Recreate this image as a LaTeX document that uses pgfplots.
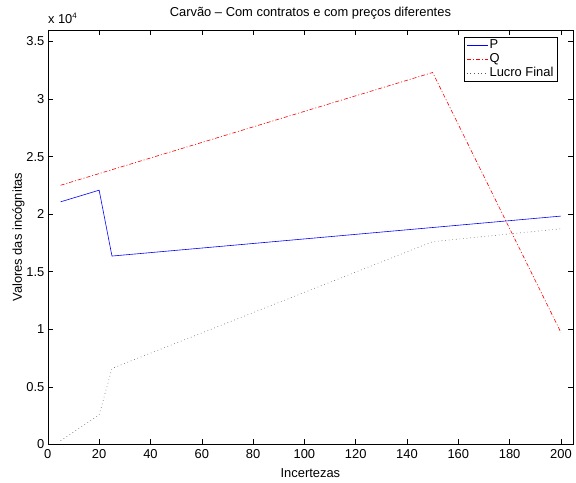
\documentclass[border=0pt]{standalone}
\usepackage{fontspec}
\setmainfont{Liberation Sans}
\usepackage{pgfplots}
\pgfplotsset{compat=1.18}
\newcommand{\chartfont}{\fontsize{13}{15}\selectfont}
\definecolor{lucro}{rgb}{0.35,0.35,0.35}
\begin{document}
\begin{tikzpicture}
\chartfont
\begin{axis}[
  scale only axis,
  width=527bp, height=416bp,
  at={(0,0)}, anchor=south west,
  xmin=0, xmax=204.7, ymin=0, ymax=36000,
  xtick={0,20,...,200},
  ytick={0,5000,10000,15000,20000,25000,30000,35000},
  yticklabels={0,0.5,1,1.5,2,2.5,3,3.5},
  scaled y ticks=false,
  tick align=inside,
  xtick pos=both, ytick pos=both,
  major tick length=5bp,
  tick style={black, line width=0.5pt},
  axis line style={line width=0.6pt},
  /pgf/number format/assume math mode=true,
  tick label style={font=\chartfont},
  xticklabel style={yshift=-1bp},
  yticklabel style={xshift=1bp},
  title={Carvão -- Com contratos e com preços diferentes},
  title style={font=\chartfont, yshift=0bp},
  xlabel={Incertezas},
  ylabel={Valores das incógnitas},
  label style={font=\chartfont},
  xlabel style={yshift=-1bp},
  ylabel style={yshift=-7bp},
  legend style={at={(rel axis cs:0.97,0.983)}, anchor=north east,
    line width=0.7pt,
    inner xsep=2pt, inner ysep=1pt,
    nodes={inner sep=1.5pt}, cells={anchor=west}},
]
\addplot[draw=blue, line width=0.6pt,
  legend image code/.code={\pgfsetstrokecolor{blue}\pgfsetlinewidth{0.6pt}\pgfpathmoveto{\pgfpointorigin}\pgfpathlineto{\pgfpoint{21bp}{0bp}}\pgfusepath{stroke}}]
  coordinates {(5,21070) (20,22080) (25,16360) (200,19830)};
\addlegendentry{P}
\addplot[draw=red, line width=0.6pt, dash pattern=on 4bp off 2bp on 1bp off 2bp,
  legend image code/.code={\pgfsetstrokecolor{red}\pgfsetlinewidth{0.6pt}\pgfsetdash{{4bp}{2bp}{1bp}{2bp}}{0bp}\pgfpathmoveto{\pgfpointorigin}\pgfpathlineto{\pgfpoint{21bp}{0bp}}\pgfusepath{stroke}}]
  coordinates {(5,22510) (150,32300) (200,9720)};
\addlegendentry{Q}
\addplot[draw=lucro, line width=0.6pt, dash pattern=on 0.6bp off 3bp,
  legend image code/.code={\pgfsetstrokecolor{lucro}\pgfsetlinewidth{0.6pt}\pgfsetdash{{0.6bp}{3bp}}{0bp}\pgfpathmoveto{\pgfpointorigin}\pgfpathlineto{\pgfpoint{21bp}{0bp}}\pgfusepath{stroke}}]
  coordinates {(5,330) (20,2560) (25,6600) (150,17610) (200,18730)};
\addlegendentry{Lucro Final}
\end{axis}
\node[anchor=base west, inner sep=0pt] at (0bp,422bp) {\chartfont x 10\raisebox{0.8ex}{\fontsize{8}{9}\selectfont 4}};
\path (-48bp,-34bp) rectangle (528bp,446bp);
\end{tikzpicture}
\end{document}
